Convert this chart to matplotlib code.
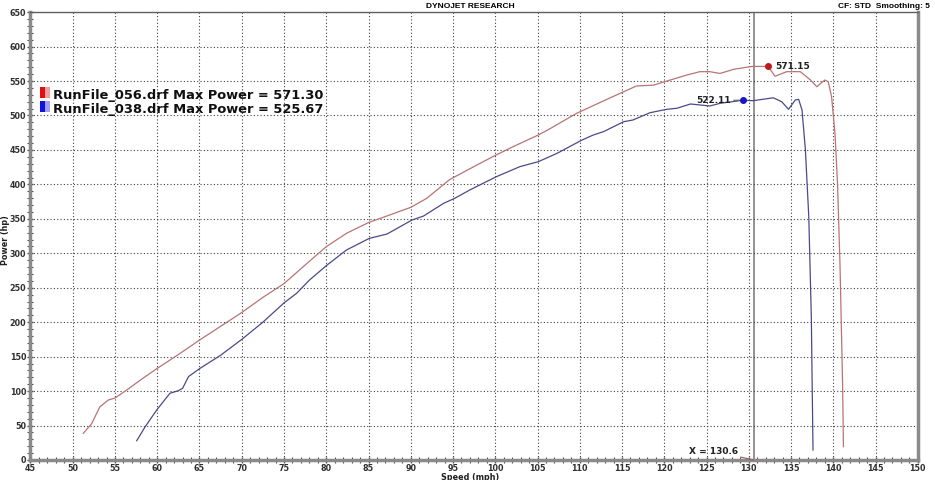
import numpy as np
import matplotlib
matplotlib.use("Agg")
import matplotlib.pyplot as plt
from matplotlib.patches import Rectangle
from matplotlib.ticker import MultipleLocator

# RunFile_056 (red)
red_speed = [51.25, 52.25, 53.2, 54.2, 55.0, 56.4, 58.0, 60.0, 62.5, 65.0, 67.5, 70.0,
             72.5, 75.0, 77.5, 80.0, 82.4, 85.0, 87.5, 90.0, 91.9, 94.6, 97.8, 100.1,
             102.1, 105.1, 106.5, 109.6, 113.2, 115.2, 116.7, 118.7, 120.3, 122.7, 124.2,
             125.4, 126.6, 128.2, 130.2, 130.8, 131.5, 132.3, 133.1, 134.5, 136.1, 137.3,
             138.05, 139.0, 139.4, 139.8, 140.2, 140.5, 140.8, 141.1, 141.2]
red_hp = [38.7, 53, 77, 87, 90, 101.6, 116, 133, 153, 174, 194, 214,
          236, 256, 283, 309.6, 329, 344.6, 355.6, 366.7, 379.8, 407, 428, 442.7,
          454.7, 471.7, 481, 503, 523.4, 534.5, 542.8, 544, 550, 558.8, 563.6,
          563.6, 561, 567, 571.0, 571.3, 571.2, 571.15, 557, 563.6, 563.6, 551.5,
          541.8, 551.5, 549, 527, 474, 401.6, 280.5, 111, 19.3]

# RunFile_038 (blue)
blue_speed = [57.57, 58.56, 59.94, 61.5, 62.5, 63.0, 63.7, 65.06, 67.5, 70.0, 72.5, 75.0,
              76.5, 78.0, 80.1, 82.4, 85.1, 87.2, 90.15, 91.5, 93.9, 95.2, 97.0, 100.1,
              102.9, 105.1, 107.3, 110.2, 111.6, 112.8, 115.2, 116.3, 118.3, 120.3, 121.5,
              123.1, 125.4, 126.6, 129.3, 130.5, 132.9, 133.9, 134.7, 135.5, 135.9, 136.3,
              136.7, 137.1, 137.4, 137.6]
blue_hp = [28, 48, 72.6, 96.8, 100.6, 104, 121, 133, 152, 175, 200, 228,
           242, 261, 283, 304.8, 321.7, 328, 348.3, 354, 372.6, 379.8, 392, 411,
           425.7, 433, 445, 464, 471.7, 476.5, 491, 493.5, 504, 509, 510.5,
           516.7, 513.8, 517.7, 522.11, 521.5, 525.67, 520, 509, 522.5, 523.4, 508,
           450, 353, 208, 14.5]

legend_labels = ["RunFile_056.drf Max Power = 571.30",
                 "RunFile_038.drf Max Power = 525.67"]
red_marker = (132.3, 571.15)
blue_marker = (129.3, 522.11)
cursor_x = 130.6

fig = plt.figure(figsize=(9.35, 4.8), dpi=100)
ax = fig.add_axes([0.0326, 0.0417, 0.949, 0.933])

ax.plot(red_speed, red_hp, color="#b87474", lw=0.9)
ax.plot(blue_speed, blue_hp, color="#4a4a8a", lw=0.9)

ax.axvline(cursor_x, color="#808080", lw=1.2, zorder=1)

# peak markers
ax.plot(*red_marker, "o", color="#c01818", ms=4, zorder=5)
ax.text(red_marker[0] + 0.8, red_marker[1], f"{red_marker[1]:.2f}", fontsize=6.5,
        fontweight="bold", va="center", ha="left", color="#202020")
ax.plot(*blue_marker, "o", color="#1818c0", ms=4, zorder=5)
ax.annotate(f"{blue_marker[1]:.2f}", xy=blue_marker, xytext=(blue_marker[0] - 1.4, blue_marker[1]),
            fontsize=6.5, fontweight="bold", va="center", ha="right", color="#202020",
            arrowprops=dict(arrowstyle="-", color="#606060", lw=0.8, shrinkA=0, shrinkB=2))

# cursor readout
ax.annotate(f"X = {cursor_x}", xy=(cursor_x, 0), xytext=(128.7, 13),
            fontsize=6.5, fontweight="bold", va="center", ha="right", color="#202020",
            arrowprops=dict(arrowstyle="-", color="#906060", lw=0.8, shrinkA=0, shrinkB=0))

# legend
for i, (lab, dark, light) in enumerate(zip(legend_labels, ["#e01010", "#1010e0"],
                                           ["#f0a0a0", "#a0a0f0"])):
    yc = 0.813 - i * 0.031
    ax.add_patch(Rectangle((0.011, yc - 0.005), 0.0055, 0.024, transform=ax.transAxes,
                           facecolor=dark, edgecolor="none", clip_on=False, zorder=6))
    ax.add_patch(Rectangle((0.0165, yc - 0.005), 0.0055, 0.024, transform=ax.transAxes,
                           facecolor=light, edgecolor="none", clip_on=False, zorder=6))
    ax.text(0.0254, yc, lab, transform=ax.transAxes, fontsize=9.4, fontweight="bold",
            va="center", ha="left", color="#101010", zorder=6)

ax.set_xlim(45, 150)
ax.set_ylim(0, 650)
ax.xaxis.set_major_locator(MultipleLocator(5))
ax.xaxis.set_minor_locator(MultipleLocator(1))
ax.yaxis.set_major_locator(MultipleLocator(50))
ax.yaxis.set_minor_locator(MultipleLocator(10))
ax.grid(True, which="major", color="#404040", linestyle=(0, (1, 2)), lw=0.8)
ax.tick_params(which="both", direction="inout", colors="#505050", labelcolor="#303030",
               labelsize=5.8, pad=0.5)
ax.tick_params(which="major", length=5, width=1)
ax.tick_params(which="minor", length=4, width=0.8)
for lbl in ax.get_xticklabels() + ax.get_yticklabels():
    lbl.set_fontweight("bold")

for side in ["left", "bottom", "right"]:
    ax.spines[side].set_color("#8a8a8a")
    ax.spines[side].set_linewidth(2.5)
ax.spines["top"].set_color("#606060")
ax.spines["top"].set_linewidth(1)

fig.text(0.503, 0.006, "Speed (mph)", fontsize=5.8, fontweight="bold",
         ha="center", va="center", color="#202020")
fig.text(0.0055, 0.5, "Power (hp)", fontsize=5.8, fontweight="bold", rotation=90,
         ha="center", va="center", color="#202020")

fig.text(0.503, 0.9875, "DYNOJET RESEARCH", fontsize=6, fontweight="bold",
         family="Liberation Sans", ha="center", va="center")
fig.text(0.995, 0.9875, "CF: STD  Smoothing: 5", fontsize=6, fontweight="bold",
         family="Liberation Sans", ha="right", va="center")

fig.savefig("out.png", dpi=100)
